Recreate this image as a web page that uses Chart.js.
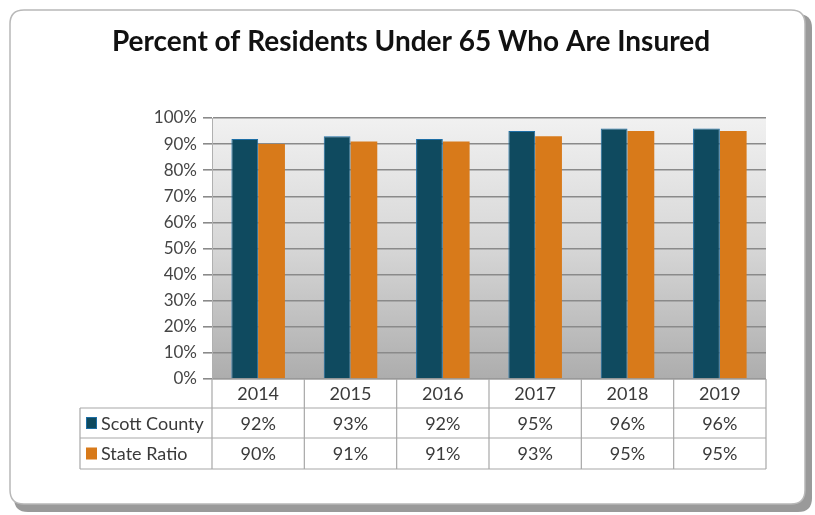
<!DOCTYPE html>
<html><head><meta charset="utf-8">
<script src="https://cdn.jsdelivr.net/npm/chart.js@4/dist/chart.umd.min.js"></script>
<style>html,body{margin:0;padding:0;background:#fff;}#wrap{width:815px;height:515px;position:relative;}</style>
</head><body><div id="wrap"><canvas id="c" width="815" height="515"></canvas></div>
<script>
const title = "Percent of Residents Under 65 Who Are Insured";
const years = ["2014","2015","2016","2017","2018","2019"];
const scottCounty = [92,93,92,95,96,96];
const stateRatio = [90,91,91,93,95,95];
const seriesNames = ["Scott County","State Ratio"];
const seriesColors = ["#0f4a5f","#d87a1a"];
const FONT = "Lato, 'Open Sans', sans-serif";

const framePlugin = {
  id:'frame',
  beforeDraw(chart){
    const ctx = chart.ctx;
    ctx.save();
    ctx.fillStyle='#fff';ctx.fillRect(0,0,815,515);
    ctx.fillStyle='#9a9a9a';
    rr(ctx,14,14,798,498,14);ctx.fill();
    ctx.fillStyle='#fff';
    ctx.strokeStyle='#b8b8b8';ctx.lineWidth=1.5;
    rr(ctx,10,10,795,494,14);ctx.fill();ctx.stroke();
    ctx.fillStyle='#111';
    ctx.font="bold 28px "+FONT;
    ctx.textAlign='center';ctx.textBaseline='middle';
    ctx.fillText(title,411,42);
    const a=chart.chartArea;
    const g=ctx.createLinearGradient(0,a.top,0,a.bottom);
    g.addColorStop(0,'#f1f1f1');g.addColorStop(0.5,'#d6d6d6');g.addColorStop(1,'#adadad');
    ctx.fillStyle=g;ctx.fillRect(a.left,a.top,a.right-a.left,a.bottom-a.top);
    ctx.restore();
  },
  afterDraw(chart){
    const ctx=chart.ctx, a=chart.chartArea, xs=chart.scales.x;
    const n=years.length, w=(a.right-a.left)/n;
    const rows=[a.bottom,a.bottom+29,a.bottom+59,a.bottom+90];
    const labelLeft=80;
    ctx.save();
    ctx.strokeStyle='#a8a8a8';ctx.lineWidth=1.2;
    ctx.beginPath();
    ctx.moveTo(a.left,rows[0]);ctx.lineTo(a.right,rows[0]);
    for(let r=1;r<4;r++){ctx.moveTo(labelLeft,rows[r]);ctx.lineTo(a.right,rows[r]);}
    ctx.moveTo(labelLeft,rows[1]);ctx.lineTo(labelLeft,rows[3]);
    for(let i=0;i<=n;i++){const x=a.left+i*w;ctx.moveTo(x,rows[0]);ctx.lineTo(x,rows[3]);}
    ctx.stroke();
    ctx.fillStyle='#3a3a3a';ctx.font="18px "+FONT;ctx.textAlign='center';ctx.textBaseline='middle';
    const data=[scottCounty,stateRatio];
    years.forEach((y,i)=>{
      const cx=xs.getPixelForValue(i);
      ctx.fillText(y,cx,(rows[0]+rows[1])/2+1);
      ctx.fillText(data[0][i]+'%',cx,(rows[1]+rows[2])/2+1);
      ctx.fillText(data[1][i]+'%',cx,(rows[2]+rows[3])/2+1);
    });
    ctx.textAlign='left';
    seriesNames.forEach((s,k)=>{
      const cy=(rows[k+1]+rows[k+2])/2;
      ctx.fillStyle=seriesColors[k];
      ctx.fillRect(86,cy-6,11,12);
      if(k===0){ctx.strokeStyle='#1d6ea5';ctx.lineWidth=1;ctx.strokeRect(86.5,cy-5.5,10,11);}
      ctx.fillStyle='#3a3a3a';
      ctx.fillText(s,101,cy+1);
    });
    ctx.restore();
  }
};
function rr(ctx,x,y,w,h,r){ctx.beginPath();ctx.moveTo(x+r,y);ctx.lineTo(x+w-r,y);ctx.quadraticCurveTo(x+w,y,x+w,y+r);ctx.lineTo(x+w,y+h-r);ctx.quadraticCurveTo(x+w,y+h,x+w-r,y+h);ctx.lineTo(x+r,y+h);ctx.quadraticCurveTo(x,y+h,x,y+h-r);ctx.lineTo(x,y+r);ctx.quadraticCurveTo(x,y,x+r,y);ctx.closePath();}

new Chart(document.getElementById('c'),{
  type:'bar',
  data:{labels:years,datasets:[
    {label:seriesNames[0],data:scottCounty,backgroundColor:seriesColors[0],borderColor:'#1d6ea5',borderWidth:1,categoryPercentage:0.58,barPercentage:1},
    {label:seriesNames[1],data:stateRatio,backgroundColor:seriesColors[1],borderWidth:0,categoryPercentage:0.58,barPercentage:1}
  ]},
  options:{
    responsive:false,animation:false,devicePixelRatio:1,
    layout:{padding:{left:0,right:49,top:118,bottom:136}},
    plugins:{legend:{display:false},tooltip:{enabled:false},title:{display:false}},
    scales:{
      x:{display:false},
      y:{min:0,max:100,afterFit(s){s.width=212;},
         ticks:{stepSize:10,padding:6,color:'#454545',font:{family:FONT,size:17},callback:v=>v+'%'},
         grid:{color:'#8a8a8a',lineWidth:1.6,tickLength:9,drawTicks:true},
         border:{display:true,color:'#b0b0b0'}}
    }
  },
  plugins:[framePlugin]
});
</script></body></html>
